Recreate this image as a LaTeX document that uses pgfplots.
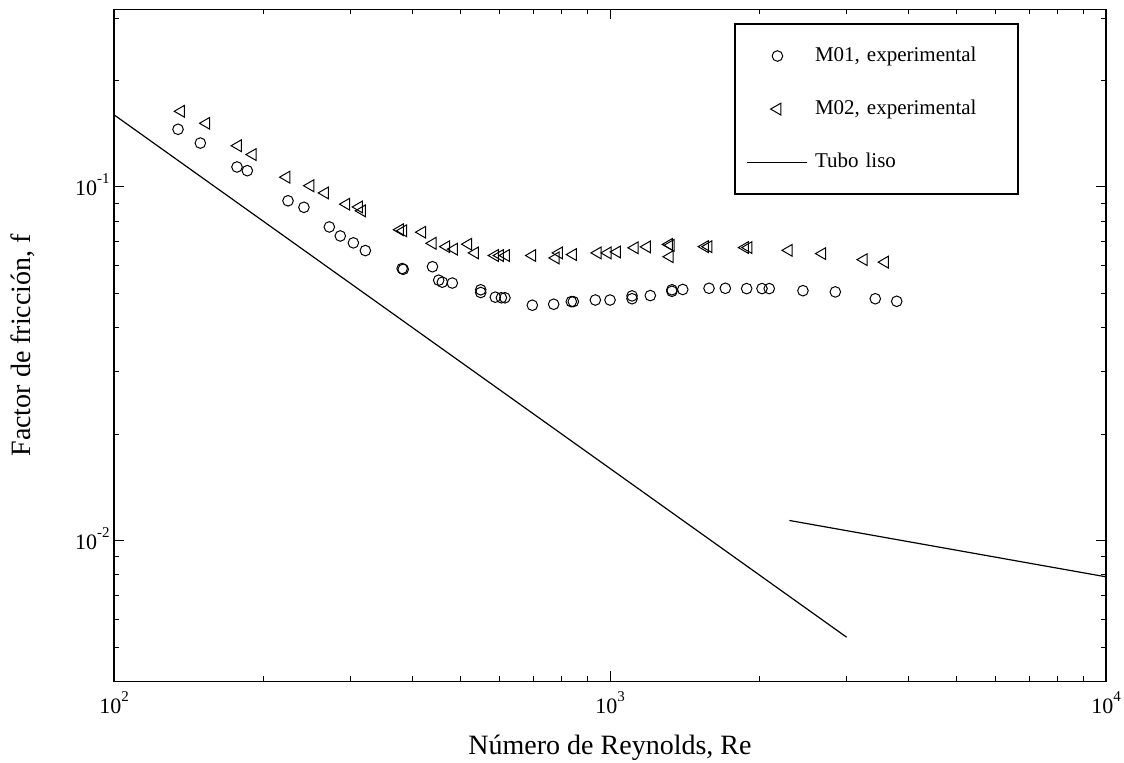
\documentclass[border=0pt]{standalone}
\usepackage{fontspec}
\setmainfont{Liberation Serif}
\usepackage{pgfplots}
\pgfplotsset{compat=1.18}
\usepackage{pgfplotstable}

\newcommand{\sups}[1]{\raisebox{0.55em}{\fontsize{7.5}{8}\selectfont #1}}

\pgfplotsset{
  markleg/.style={legend image code/.code={\draw[##1, mark repeat=2, mark phase=2] plot coordinates {(0pt,0pt) (15pt,0pt) (30pt,0pt)};}},
  lineleg/.style={legend image code/.code={\draw[##1] (0pt,0pt) -- (30pt,0pt);}},
}

\pgfplotstableread{
x y
134.6 0.1456
149.3 0.1331
177.0 0.1139
185.7 0.1112
224.3 0.0914
241.5 0.0876
271.7 0.0771
285.9 0.0727
303.8 0.0695
321.2 0.0661
381 0.0588
383 0.0585
438.6 0.0595
451.4 0.0545
459.1 0.0538
480.9 0.0535
548.7 0.0512
548.7 0.0503
587.1 0.0488
604 0.0486
614 0.0486
697.2 0.0463
770 0.0466
835.6 0.0474
843.4 0.0474
934.1 0.0479
1000 0.0479
1107.7 0.0492
1107.7 0.0483
1205.7 0.0493
1333 0.0512
1333 0.0507
1401.6 0.0513
1583.5 0.0517
1708 0.0517
1886 0.0516
2025 0.0516
2094 0.0516
2449 0.0509
2846 0.0505
3426 0.0483
3785 0.0475
}\mzeroone

\pgfplotstableread{
x y
136.5 0.1637
153.5 0.1514
177.8 0.1308
190.4 0.1235
222.6 0.1066
248.8 0.1008
266.3 0.0962
294.0 0.0894
311.9 0.0878
316.2 0.0856
377.3 0.0757
382.9 0.0752
418.4 0.0745
439.0 0.0693
467.7 0.0678
484.8 0.0667
518.0 0.0689
534.4 0.0651
586.2 0.0640
600.1 0.0640
617.1 0.0640
697.2 0.0640
777.1 0.0630
789.2 0.0651
842.2 0.0644
944.6 0.0651
989.4 0.0651
1033 0.0655
1121.5 0.0673
1187.4 0.0677
1315 0.0688
1326 0.0684
1319.6 0.0635
1554 0.0678
1580 0.0678
1872 0.0674
1903 0.0674
2293 0.0662
2679 0.0648
3248 0.0623
3584 0.0613
}\mzerotwo

\begin{document}
\begin{tikzpicture}
\begin{axis}[
  name=ax,
  scale only axis, width=496pt, height=336pt,
  xmode=log, ymode=log,
  xmin=100, xmax=10000, ymin=0.004, ymax=0.318,
  xtick={100,1000,10000},
  xticklabels={10\sups{2},10\sups{3},10\sups{4}},
  ytick={0.01,0.1},
  yticklabels={10\sups{-2},10\sups{-1}},
  minor xtick={200,300,400,500,600,700,800,900,2000,3000,4000,5000,6000,7000,8000,9000},
  minor ytick={0.005,0.006,0.007,0.008,0.009,0.02,0.03,0.04,0.05,0.06,0.07,0.08,0.09,0.2,0.3},
  tick align=inside, xtick pos=both, ytick pos=both,
  xticklabel pos=lower, yticklabel pos=left,
  major tick length=5pt, minor tick length=2.5pt,
  axis line style={line width=0.8pt},
  every tick/.style={black, line width=0.5pt},
  ticklabel style={font=\fontsize{11}{13}\selectfont, inner sep=0pt},
  xticklabel style={anchor=base, yshift=-16pt},
  yticklabel style={anchor=base east, xshift=-2pt, yshift=-4.35pt},
  label style={font=\fontsize{14}{17}\selectfont},
  xlabel={Número de Reynolds, Re},
  ylabel={Factor de fricción, f},
  xlabel style={at={(axis description cs:0.5,-0.1086)}, anchor=base},
  ylabel style={at={(axis description cs:-0.0837,0.5)}, anchor=base},
  legend style={at={(rel axis cs:0.625,0.979)}, anchor=north west,
    draw=black, line width=0.8pt, inner xsep=6pt, inner ysep=11.5pt,
    row sep=17.75pt, column sep=3.5pt,
    font=\fontsize{10.5}{12}\selectfont,
    cells={anchor=west},
    nodes={inner sep=0pt, text width=95.5pt, align=left}},
]
\addplot[only marks, mark=o, mark size=2.65pt, mark options={line width=0.5pt, black}, markleg]
  table[x=x, y=y] {\mzeroone};
\addlegendentry{M01, experimental}
\addplot[only marks, mark=triangle, mark size=3.4pt, mark options={line width=0.5pt, black, rotate=90}, markleg]
  table[x=x, y=y] {\mzerotwo};
\addlegendentry{M02, experimental}
\addplot[black, line width=0.6pt, lineleg]
  coordinates {(100,0.16) (3000,0.00533)};
\addlegendentry{Tubo liso}
\addplot[black, line width=0.6pt, forget plot]
  coordinates {(2300,0.0114) (10000,0.0079)};
\end{axis}
\pgfresetboundingbox
\useasboundingbox ([xshift=-57pt,yshift=-40.5pt]ax.south west) rectangle ([xshift=9pt,yshift=4.65pt]ax.north east);
\end{tikzpicture}
\end{document}
